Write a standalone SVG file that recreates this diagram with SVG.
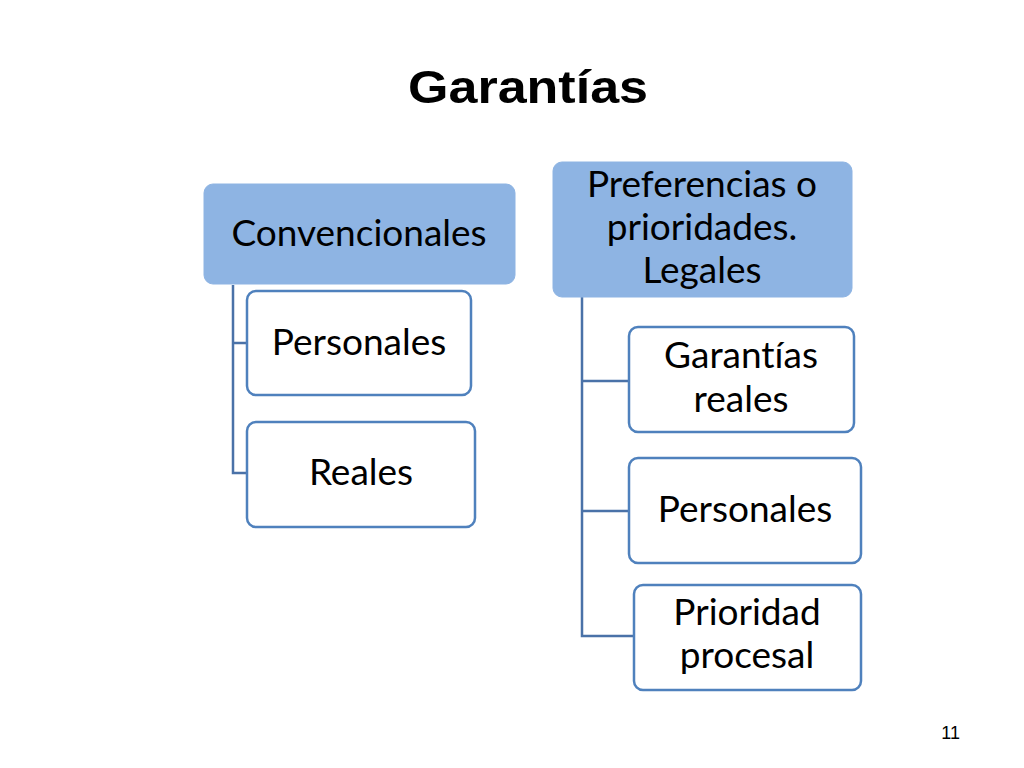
<svg xmlns="http://www.w3.org/2000/svg" width="1024" height="768" viewBox="0 0 1024 768">
<style>
.hdr{fill:#8EB4E3;stroke:#8EB4E3;stroke-width:1}
.box{fill:#FFFFFF;stroke:#4F81BD;stroke-width:2.5}
.t{font-family:Lato,"Open Sans","Liberation Sans",sans-serif;font-size:37px;fill:#000;text-anchor:middle;font-variant-ligatures:none;font-feature-settings:"liga" 0,"dlig" 0}
.c{fill:none;stroke:#4A72A8;stroke-width:2.5}
</style>
<rect width="1024" height="768" fill="#FFFFFF"/>
<text x="528" y="103" textLength="240" lengthAdjust="spacingAndGlyphs" style="font-family:'Liberation Sans',Arial,sans-serif;font-weight:bold;font-size:46px;text-anchor:middle">Garantías</text>
<g id="connectors">
<path class="c" d="M233 285 V473 H248 M233 343 H248"/>
<path class="c" d="M582 297 V636 H634 M582 381 H629 M582 511 H629"/>
</g>
<g id="n-convencionales"><rect class="hdr" x="204" y="184" width="311" height="100" rx="9"/><text class="t" x="359" y="246">Convencionales</text></g>
<g id="n-personales1"><rect class="box" x="247" y="291" width="224" height="104" rx="9"/><text class="t" x="359" y="355">Personales</text></g>
<g id="n-reales"><rect class="box" x="247" y="422" width="228" height="105" rx="9"/><text class="t" x="361" y="485">Reales</text></g>
<g id="n-preferencias"><rect class="hdr" x="553" y="162" width="299" height="135" rx="9"/><text class="t"><tspan x="702" y="197">Preferencias o</tspan><tspan x="702" y="240">prioridades.</tspan><tspan x="702" y="283">Legales</tspan></text></g>
<g id="n-garantias-reales"><rect class="box" x="629" y="327" width="225" height="105" rx="9"/><text class="t"><tspan x="741" y="368">Garantías</tspan><tspan x="741" y="412">reales</tspan></text></g>
<g id="n-personales2"><rect class="box" x="629" y="458" width="232" height="105" rx="9"/><text class="t" x="745" y="522">Personales</text></g>
<g id="n-prioridad"><rect class="box" x="634" y="585" width="227" height="105" rx="9"/><text class="t"><tspan x="747" y="625">Prioridad</tspan><tspan x="747" y="668">procesal</tspan></text></g>
<text x="960" y="739" style="font-family:'Liberation Sans',Arial,sans-serif;font-size:18px;text-anchor:end">11</text>
</svg>
